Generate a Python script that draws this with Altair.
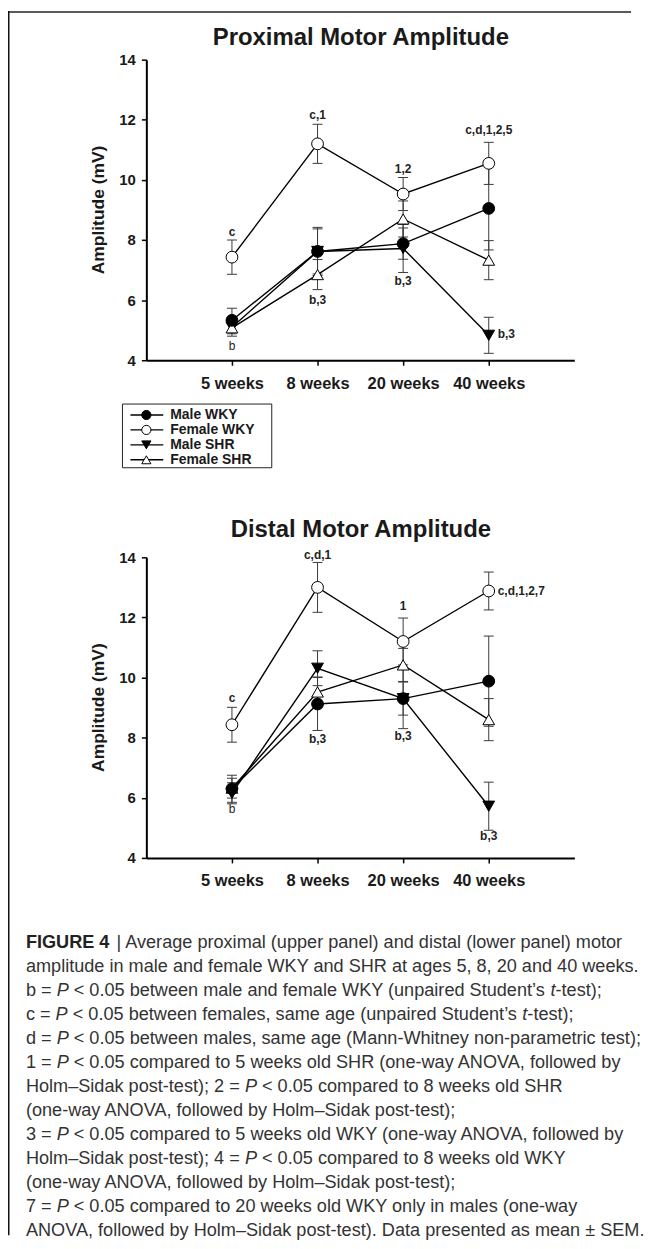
import altair as alt
import pandas as pd

# ---------------- data ----------------
weeks = ["5 weeks", "8 weeks", "20 weeks", "40 weeks"]
week_pos = [1, 2, 3, 4]
series = ["Male WKY", "Female WKY", "Male SHR", "Female SHR"]
series_shapes = ["circle", "circle", "triangle-down", "triangle-up"]
series_fills = ["black", "white", "black", "white"]
draw_order = ["Male SHR", "Female SHR", "Female WKY", "Male WKY"]

# Proximal motor amplitude (mV): mean and SEM
prox_male_wky = [5.33, 7.62, 7.88, 9.05]
prox_male_wky_sem = [0.40, 0.75, 0.52, 1.38]
prox_female_wky = [7.43, 11.20, 9.53, 10.55]
prox_female_wky_sem = [0.57, 0.65, 0.55, 0.70]
prox_male_shr = [5.10, 7.62, 7.72, 4.83]
prox_male_shr_sem = [0.22, 0.80, 0.80, 0.60]
prox_female_shr = [5.08, 6.85, 8.70, 7.33]
prox_female_shr_sem = [0.28, 0.50, 0.60, 0.65]

# Distal motor amplitude (mV): mean and SEM
dist_male_wky = [6.30, 9.12, 9.30, 9.88]
dist_male_wky_sem = [0.45, 0.88, 0.55, 1.50]
dist_female_wky = [8.43, 13.00, 11.20, 12.88]
dist_female_wky_sem = [0.58, 0.83, 0.78, 0.63]
dist_male_shr = [6.15, 10.31, 9.30, 5.72]
dist_male_shr_sem = [0.35, 0.58, 1.00, 0.80]
dist_female_shr = [6.32, 9.52, 10.42, 8.60]
dist_female_shr_sem = [0.33, 0.50, 0.55, 0.70]

# significance annotations
prox_note_text = ["c", "b", "c,1", "b,3", "1,2", "b,3", "c,d,1,2,5", "b,3"]
prox_note_week = [1, 1, 2, 2, 3, 3, 4, 4]
prox_note_value = [8.25, 4.46, 12.15, 6.02, 10.36, 6.62, 11.65, 4.87]
prox_note_side = ["center", "center", "center", "center", "center", "center", "center", "right"]
prox_note_bold = [True, False, True, True, True, True, True, True]

dist_note_text = ["c", "b", "c,d,1", "b,3", "1", "b,3", "c,d,1,2,7", "b,3"]
dist_note_week = [1, 1, 2, 2, 3, 3, 4, 4]
dist_note_value = [9.32, 5.62, 14.07, 7.96, 12.39, 8.05, 12.88, 4.74]
dist_note_side = ["center", "center", "center", "center", "center", "center", "right", "center"]
dist_note_bold = [True, False, True, True, True, True, True, True]

# caption (text between * is italic)
caption_lines = [
    "amplitude in male and female WKY and SHR at ages 5, 8, 20 and 40 weeks.",
    "b = *P* < 0.05 between male and female WKY (unpaired Student\u2019s *t*-test);",
    "c = *P* < 0.05 between females, same age (unpaired Student\u2019s *t*-test);",
    "d = *P* < 0.05 between males, same age (Mann-Whitney non-parametric test);",
    "1 = *P* < 0.05 compared to 5 weeks old SHR (one-way ANOVA, followed by",
    "Holm\u2013Sidak post-test); 2 = *P* < 0.05 compared to 8 weeks old SHR",
    "(one-way ANOVA, followed by Holm\u2013Sidak post-test);",
    "3 = *P* < 0.05 compared to 5 weeks old WKY (one-way ANOVA, followed by",
    "Holm\u2013Sidak post-test); 4 = *P* < 0.05 compared to 8 weeks old WKY",
    "(one-way ANOVA, followed by Holm\u2013Sidak post-test);",
    "7 = *P* < 0.05 compared to 20 weeks old WKY only in males (one-way",
    "ANOVA, followed by Holm\u2013Sidak post-test). Data presented as mean \u00b1 SEM.",
]
caption_head_bold = "FIGURE 4"
caption_head_rest = "| Average proximal (upper panel) and distal (lower panel) motor"

FONT = "Liberation Sans"
W, H = 430, 302          # plot area of each panel
ERR = "#3a3a3a"

# advance widths (per 1000 em) of the caption font, used to place italic runs
_ADV = {" ": 278, "(": 333, ")": 333, ",": 278, "-": 333, ".": 278, ";": 278,
        "<": 584, "=": 584, "\u2019": 222, "\u2013": 556, "\u00b1": 549,
        "A": 667, "B": 667, "C": 722, "D": 722, "E": 667, "F": 611, "G": 778,
        "H": 722, "I": 278, "K": 667, "L": 556, "M": 833, "N": 722, "O": 778,
        "P": 667, "R": 722, "S": 667, "T": 611, "U": 722, "V": 667, "W": 944,
        "Y": 667, "a": 556, "b": 556, "c": 500, "d": 556, "e": 556, "f": 278,
        "g": 556, "h": 556, "i": 222, "k": 500, "l": 222, "m": 833, "n": 556,
        "o": 556, "p": 556, "r": 333, "s": 500, "t": 278, "u": 556, "v": 500,
        "w": 722, "y": 500}


def text_width(s, fs):
    return sum(_ADV.get(ch, 556) for ch in s) * fs / 1000.0


def table(means, sems):
    rows = []
    for s in series:
        for i, wk in enumerate(week_pos):
            m, e = means[s][i], sems[s][i]
            rows.append(dict(series=s, wk=wk, mean=m, lo=m - e, hi=m + e,
                             order=draw_order.index(s)))
    return pd.DataFrame(rows)


label_expr = "[" + ",".join("'%s'" % w for w in weeks) + "][datum.value - 1]"
X = alt.X("wk:Q", scale=alt.Scale(domain=[0, 5], nice=False, zero=False),
          axis=alt.Axis(values=week_pos, labelExpr=label_expr, title=None,
                        labelFontSize=16.5, labelPadding=10, tickSize=5))


def Y(field):
    return alt.Y(field, scale=alt.Scale(domain=[4, 14], nice=False, zero=False),
                 axis=alt.Axis(values=[4, 6, 8, 10, 12, 14], title=None,
                               labelFontSize=15, labelPadding=6, tickSize=5))


def single(**kw):
    return alt.Chart(pd.DataFrame([kw]))


def panel(df, notes, title, title_y):
    base = alt.Chart(df)
    err = base.mark_rule(color=ERR, strokeWidth=1).encode(x=X, y=Y("lo:Q"), y2="hi:Q")
    cap_hi = base.mark_rule(color=ERR, strokeWidth=1, xOffset=-5, x2Offset=5).encode(
        x=X, x2="wk:Q", y=Y("hi:Q"))
    cap_lo = base.mark_rule(color=ERR, strokeWidth=1, xOffset=-5, x2Offset=5).encode(
        x=X, x2="wk:Q", y=Y("lo:Q"))
    line = base.mark_line(color="black", strokeWidth=1.4).encode(
        x=X, y=Y("mean:Q"), detail="series:N", order="wk:Q")
    pts = alt.Chart(df.sort_values(["order", "wk"])).mark_point(
        stroke="black", strokeWidth=1, size=140, opacity=1, fillOpacity=1).encode(
        x=X, y=Y("mean:Q"),
        shape=alt.Shape("series:N", scale=alt.Scale(domain=series, range=series_shapes), legend=None),
        fill=alt.Fill("series:N", scale=alt.Scale(domain=series, range=series_fills), legend=None),
    )
    text, wk, val, side, bold = notes
    nd = pd.DataFrame(dict(t=text, wk=wk, v=val, side=side, bold=bold))
    layers = [err, cap_hi, cap_lo, line, pts]
    for s, b in [("center", True), ("center", False), ("right", True)]:
        sub = nd[(nd.side == s) & (nd.bold == b)]
        if len(sub) == 0:
            continue
        layers.append(alt.Chart(sub).mark_text(
            font=FONT, fontSize=12, fontWeight="bold" if b else "normal",
            color="#222", align="center" if s == "center" else "left",
            dx=0 if s == "center" else 9, baseline="middle").encode(
            x=X, y=Y("v:Q"), text="t:N"))
    layers.append(single(t=title).mark_text(
        font=FONT, fontSize=24, fontWeight="bold", color="#1a1a1a",
        align="center", baseline="middle").encode(
        text="t:N", x=alt.value(215.5), y=alt.value(title_y)))
    layers.append(single(t="Amplitude (mV)").mark_text(
        font=FONT, fontSize=17.5, fontWeight="bold", color="#1a1a1a",
        align="center", baseline="middle", angle=270).encode(
        text="t:N", x=alt.value(-48), y=alt.value(151)))
    return layers


prox = table(
    {"Male WKY": prox_male_wky, "Female WKY": prox_female_wky,
     "Male SHR": prox_male_shr, "Female SHR": prox_female_shr},
    {"Male WKY": prox_male_wky_sem, "Female WKY": prox_female_wky_sem,
     "Male SHR": prox_male_shr_sem, "Female SHR": prox_female_shr_sem})
dist = table(
    {"Male WKY": dist_male_wky, "Female WKY": dist_female_wky,
     "Male SHR": dist_male_shr, "Female SHR": dist_female_shr},
    {"Male WKY": dist_male_wky_sem, "Female WKY": dist_female_wky_sem,
     "Male SHR": dist_male_shr_sem, "Female SHR": dist_female_shr_sem})

top_layers = panel(prox, (prox_note_text, prox_note_week, prox_note_value,
                          prox_note_side, prox_note_bold),
                   "Proximal Motor Amplitude", -22)

# frame lines (top and left), drawn as thin filled bands
top_layers.append(single(a=1).mark_rect(color="#5a5a5a", strokeWidth=0).encode(
    x=alt.value(-139), x2=alt.value(487), y=alt.value(-49), y2=alt.value(-47)))
top_layers.append(single(a=1).mark_rect(color="#111", strokeWidth=0).encode(
    x=alt.value(-139), x2=alt.value(-137.5), y=alt.value(-49), y2=alt.value(1181)))

# legend box and entries
top_layers.append(single(a=1).mark_rect(fill="white", stroke="#222", strokeWidth=1).encode(
    x=alt.value(-24), x2=alt.value(126), y=alt.value(346), y2=alt.value(410)))
for i, s in enumerate(series):
    ly = 357 + i * 15
    top_layers.append(single(a=1).mark_rule(color="black", strokeWidth=1.4).encode(
        x=alt.value(-16), x2=alt.value(17), y=alt.value(ly), y2=alt.value(ly)))
    top_layers.append(single(a=1).mark_point(
        shape=series_shapes[i], fill=series_fills[i], stroke="black", strokeWidth=1,
        size=85, opacity=1, fillOpacity=1).encode(x=alt.value(0), y=alt.value(ly)))
    top_layers.append(single(t=s).mark_text(
        font=FONT, fontSize=14, fontWeight="bold", color="#1a1a1a",
        align="left", baseline="middle").encode(
        text="t:N", x=alt.value(24), y=alt.value(ly)))

bottom_layers = panel(dist, (dist_note_text, dist_note_week, dist_note_value,
                             dist_note_side, dist_note_bold),
                      "Distal Motor Amplitude", -27)

# caption
CAP_X = -121
CAP_Y0 = 388
CAP_DY = 24.1
CAP_FS = 18.2
bottom_layers.append(single(t=caption_head_bold).mark_text(
    font=FONT, fontSize=CAP_FS, fontWeight="bold", color="#222",
    align="left", baseline="middle").encode(
    text="t:N", x=alt.value(CAP_X), y=alt.value(CAP_Y0)))
bottom_layers.append(single(t=caption_head_rest).mark_text(
    font=FONT, fontSize=CAP_FS, color="#333", align="left", baseline="middle").encode(
    text="t:N", x=alt.value(CAP_X + 91), y=alt.value(CAP_Y0)))
for i, line_txt in enumerate(caption_lines):
    ly = CAP_Y0 + (i + 1) * CAP_DY
    pos = 0.0
    for k, seg in enumerate(line_txt.split("*")):
        italic = k % 2 == 1
        lead = len(seg) - len(seg.lstrip(" "))
        pos += text_width(" " * lead, CAP_FS)
        body = seg.strip(" ")
        if body:
            bottom_layers.append(single(t=body).mark_text(
                font=FONT, fontSize=CAP_FS, color="#333", align="left",
                baseline="middle", fontStyle="italic" if italic else "normal").encode(
                text="t:N", x=alt.value(CAP_X + pos), y=alt.value(ly)))
        pos += text_width(seg.lstrip(" "), CAP_FS)

top = alt.layer(*top_layers).properties(width=W, height=H)
bottom = alt.layer(*bottom_layers).properties(width=W, height=H)

chart = alt.vconcat(top, bottom, spacing=198, bounds="flush").properties(
    padding=0
).configure_view(stroke=None).configure_axis(
    domainColor="black", domainWidth=2, tickColor="black", tickWidth=1.5,
    grid=False, labelFont=FONT, labelFontWeight="bold", labelColor="#1a1a1a",
)

chart.save("out.html", embed_options={"renderer": "svg", "actions": False})
